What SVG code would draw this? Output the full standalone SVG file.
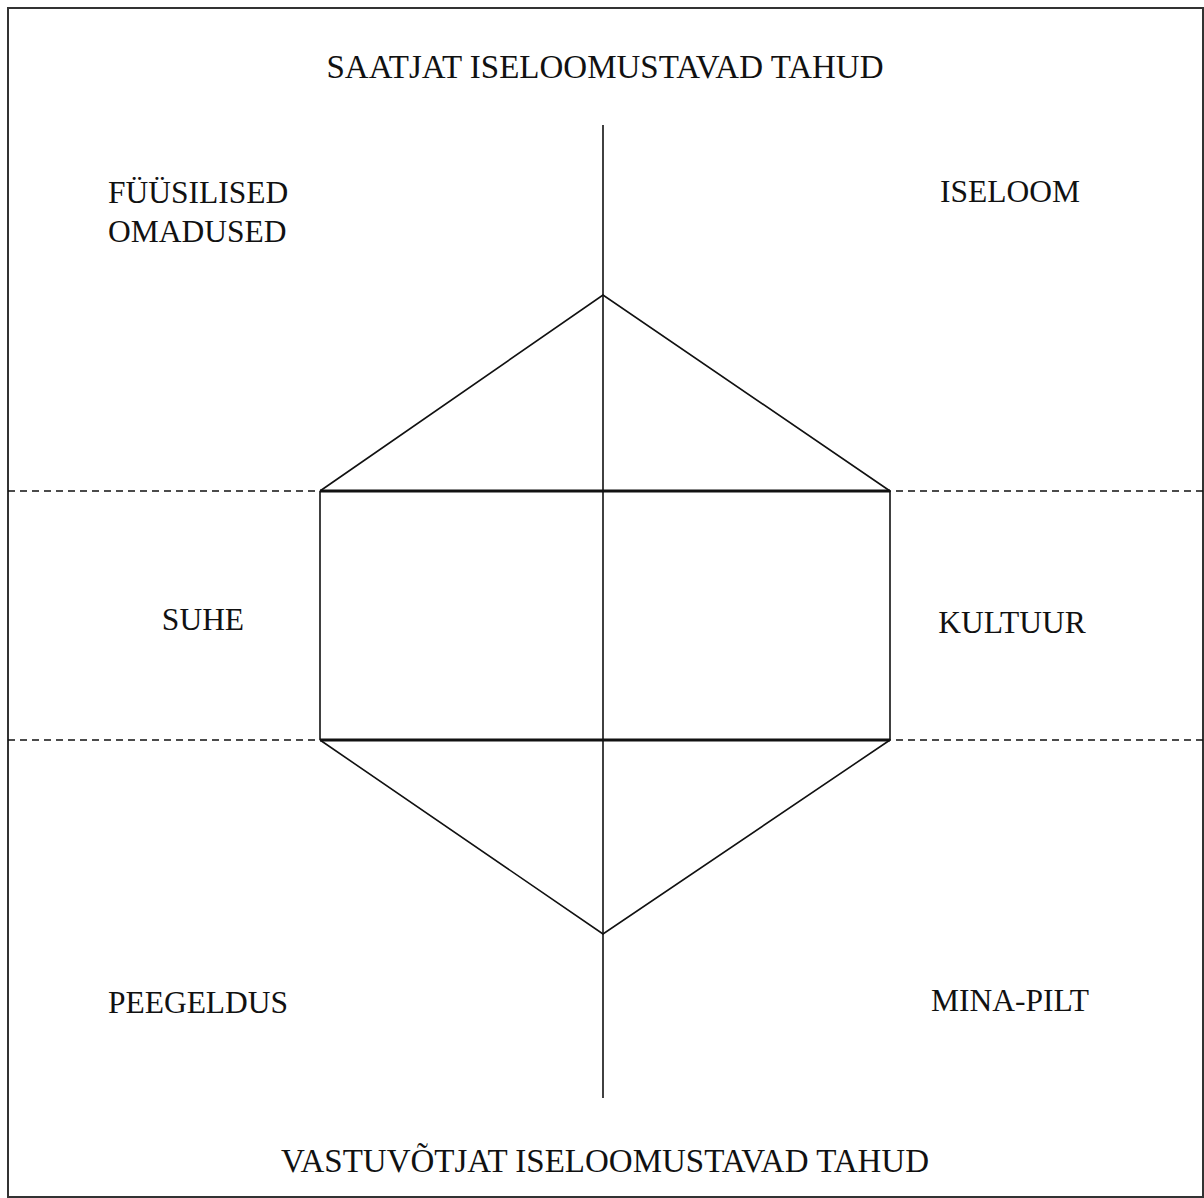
<svg xmlns="http://www.w3.org/2000/svg" width="1204" height="1198" viewBox="0 0 1204 1198">
<style>
.t{font-family:"Liberation Serif","Times New Roman",serif;font-size:31.5px;fill:#111}
.h{font-size:33px}
.ln{stroke:#111;stroke-width:1.6;fill:none}
.thick{stroke:#111;stroke-width:3;fill:none}
.dash{stroke:#111;stroke-width:1.5;stroke-dasharray:7 5;fill:none}
</style>
<rect x="0" y="0" width="1204" height="1198" fill="#fff"/>
<rect id="frame" x="8" y="8" width="1195" height="1189" fill="none" stroke="#333" stroke-width="2"/>
<g id="connectors">
<line class="dash" x1="8" y1="491" x2="1204" y2="491"/>
<line class="dash" x1="8" y1="740" x2="1204" y2="740"/>
<line class="ln" x1="603" y1="125" x2="603" y2="1098"/>
<polyline class="ln" points="320,491 603,295 890,491"/>
<polyline class="ln" points="320,740 603,934 890,740"/>
<line class="thick" x1="320" y1="491" x2="890" y2="491"/>
<line class="thick" x1="320" y1="740" x2="890" y2="740"/>
<line class="ln" x1="320" y1="491" x2="320" y2="740"/>
<line class="ln" x1="890" y1="491" x2="890" y2="740"/>
</g>
<g id="title-top"><text class="t h" x="605" y="78" text-anchor="middle">SAATJAT ISELOOMUSTAVAD TAHUD</text></g>
<g id="fyysilised"><text class="t" x="108" y="203">FÜÜSILISED</text><text class="t" x="108" y="242">OMADUSED</text></g>
<g id="iseloom"><text class="t" x="1010" y="202" text-anchor="middle">ISELOOM</text></g>
<g id="suhe"><text class="t" x="203" y="630" text-anchor="middle">SUHE</text></g>
<g id="kultuur"><text class="t" x="1012" y="633" text-anchor="middle">KULTUUR</text></g>
<g id="peegeldus"><text class="t" x="198" y="1013" text-anchor="middle">PEEGELDUS</text></g>
<g id="minapilt"><text class="t" x="1010" y="1011" text-anchor="middle">MINA-PILT</text></g>
<g id="title-bottom"><text class="t h" x="605" y="1172" text-anchor="middle">VASTUVÕTJAT ISELOOMUSTAVAD TAHUD</text></g>
</svg>
